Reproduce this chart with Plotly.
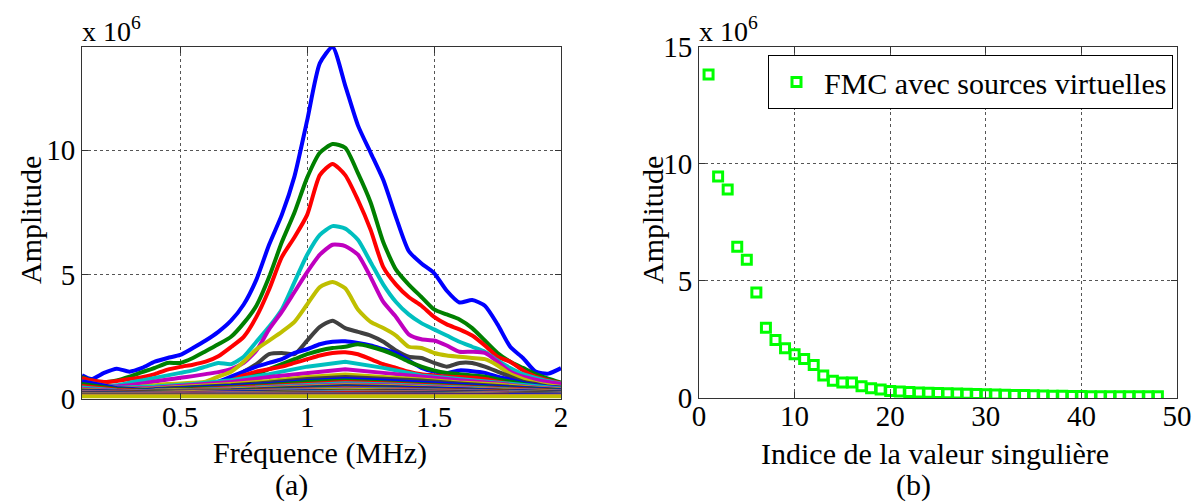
import plotly.graph_objects as go

# ---------------- data: panel (a) ----------------
FREQ = [0.113, 0.15, 0.2, 0.25, 0.3, 0.35, 0.4, 0.45, 0.5, 0.55, 0.6, 0.65, 0.7, 0.75,
        0.8, 0.85, 0.9, 0.95, 1.0, 1.05, 1.1, 1.15, 1.2, 1.25, 1.3, 1.35, 1.4, 1.45,
        1.5, 1.55, 1.6, 1.65, 1.7, 1.75, 1.8, 1.85, 1.9, 1.95, 2.0]

BLUE_1 = [0.95, 0.80, 1.05, 1.22, 1.10, 1.25, 1.50, 1.65, 1.77, 2.05, 2.35, 2.70, 3.15, 3.80,
          4.80, 6.20, 7.40, 8.95, 11.2, 13.5, 14.15, 12.6, 11.0, 9.9, 8.8, 7.3, 5.95, 5.45,
          5.06, 4.35, 3.88, 3.98, 3.75, 3.0, 2.1, 1.65, 1.10, 1.02, 1.24]
GREEN_1 = [0.88, 0.75, 0.68, 0.75, 0.90, 1.08, 1.25, 1.45, 1.45, 1.65, 1.92, 2.2, 2.5, 3.05,
           3.75, 4.9, 6.3, 7.5, 8.9, 9.9, 10.25, 10.1, 9.08, 7.9, 6.3, 5.2, 4.6, 4.1,
           3.6, 3.4, 3.2, 2.85, 2.35, 1.85, 1.5, 1.25, 1.0, 0.82, 0.66]
RED_1 = [0.84, 0.75, 0.68, 0.72, 0.80, 0.88, 1.0, 1.18, 1.29, 1.38, 1.5, 1.72, 2.09, 2.5,
         3.3, 4.4, 5.7, 6.5, 7.4, 9.0, 9.45, 9.0, 8.0, 6.8, 5.3, 4.6, 4.1, 3.75,
         3.3, 3.0, 2.8, 2.55, 2.15, 1.7, 1.5, 1.15, 0.9, 0.75, 0.64]
CYAN_1 = [0.6, 0.55, 0.5, 0.55, 0.65, 0.75, 0.85, 0.95, 1.05, 1.15, 1.3, 1.45, 1.4, 1.7,
          2.3, 2.9, 3.6, 4.7, 5.8, 6.6, 6.95, 6.85, 6.4, 5.5, 4.6, 3.9, 3.4, 3.05,
          2.8, 2.55, 2.3, 2.1, 1.9, 1.55, 1.25, 1.0, 0.85, 0.72, 0.62]
MAGENTA_1 = [0.55, 0.5, 0.48, 0.5, 0.55, 0.62, 0.7, 0.78, 0.85, 0.92, 1.0, 1.08, 1.2, 1.45,
             1.95, 2.8, 3.5, 4.3, 5.1, 5.8, 6.2, 6.15, 5.8, 4.9, 3.9, 3.3, 2.6, 2.4,
             2.35, 2.15, 1.9, 1.9, 1.85, 1.5, 1.1, 0.9, 0.78, 0.68, 0.6]
YELLOW_1 = [0.45, 0.4, 0.38, 0.42, 0.45, 0.5, 0.55, 0.6, 0.62, 0.65, 0.7, 0.9, 1.1, 1.5,
            2.0, 2.35, 2.7, 3.1, 3.8, 4.5, 4.7, 4.45, 3.6, 3.1, 2.85, 2.55, 2.1, 2.05,
            1.85, 1.75, 1.7, 1.65, 1.6, 1.35, 1.0, 0.8, 0.65, 0.55, 0.48]
GRAY_1 = [0.4, 0.38, 0.35, 0.38, 0.4, 0.42, 0.45, 0.48, 0.5, 0.52, 0.58, 0.65, 0.8, 1.1,
          1.4, 1.8, 1.85, 1.8, 2.35, 2.9, 3.15, 2.85, 2.7, 2.55, 2.3, 1.95, 1.7, 1.65,
          1.45, 1.3, 1.45, 1.45, 1.3, 1.1, 0.9, 0.7, 0.6, 0.5, 0.45]
BLUE_2 = [0.35, 0.33, 0.3, 0.32, 0.35, 0.38, 0.42, 0.45, 0.5, 0.55, 0.6, 0.7, 0.9, 1.1,
          1.3, 1.45, 1.6, 1.85, 2.0, 2.2, 2.3, 2.32, 2.25, 2.15, 2.0, 1.85, 1.55, 1.25,
          1.1, 1.05, 1.15, 1.12, 1.05, 0.9, 0.78, 0.65, 0.55, 0.48, 0.45]
GREEN_2 = [0.3, 0.3, 0.28, 0.3, 0.32, 0.35, 0.38, 0.42, 0.45, 0.5, 0.55, 0.62, 0.72, 0.85,
           1.0, 1.2, 1.4, 1.6, 1.8, 1.95, 2.05, 2.1, 2.2, 2.1, 1.95, 1.75, 1.5, 1.3,
           1.15, 1.05, 1.0, 0.95, 0.9, 0.8, 0.7, 0.6, 0.52, 0.45, 0.42]
RED_2 = [0.28, 0.28, 0.27, 0.28, 0.3, 0.32, 0.35, 0.38, 0.42, 0.47, 0.52, 0.6, 0.75, 0.95,
         1.1, 1.2, 1.3, 1.45, 1.6, 1.75, 1.85, 1.88, 1.8, 1.6, 1.4, 1.25, 1.1, 1.0,
         0.95, 0.9, 0.88, 0.85, 0.8, 0.7, 0.6, 0.5, 0.45, 0.4, 0.38]

MAIN_CURVES = [BLUE_1, GREEN_1, RED_1, CYAN_1, MAGENTA_1, YELLOW_1, GRAY_1,
               BLUE_2, GREEN_2, RED_2]

# lower-amplitude spectra (curves 11..48), on a coarser frequency grid
LOW_FREQ = [0.113, 0.25, 0.4, 0.55, 0.7, 0.85, 1.0, 1.15, 1.3, 1.45, 1.6, 1.75, 1.9, 2.0]
LOW_CURVES = [
    [0.55, 0.45, 0.5, 0.6, 0.75, 1.0, 1.3, 1.5, 1.25, 0.95, 0.8, 0.65, 0.5, 0.42],
    [0.5, 0.42, 0.45, 0.55, 0.68, 0.88, 1.05, 1.2, 1.05, 0.88, 0.75, 0.62, 0.46, 0.4],
    [0.48, 0.4, 0.42, 0.5, 0.6, 0.72, 0.88, 0.98, 0.9, 0.78, 0.66, 0.58, 0.44, 0.38],
    [0.45, 0.38, 0.4, 0.46, 0.55, 0.66, 0.8, 0.88, 0.82, 0.74, 0.62, 0.52, 0.42, 0.36],
    [0.42, 0.36, 0.38, 0.44, 0.5, 0.6, 0.72, 0.8, 0.74, 0.65, 0.58, 0.48, 0.4, 0.35],
    [0.4, 0.35, 0.36, 0.41, 0.48, 0.56, 0.68, 0.74, 0.68, 0.6, 0.52, 0.45, 0.38, 0.33],
    [0.62, 0.4, 0.36, 0.38, 0.45, 0.53, 0.62, 0.68, 0.63, 0.57, 0.5, 0.43, 0.36, 0.31],
    [0.66, 0.42, 0.35, 0.36, 0.42, 0.5, 0.58, 0.63, 0.59, 0.53, 0.47, 0.41, 0.34, 0.3],
    [0.5, 0.38, 0.33, 0.34, 0.4, 0.47, 0.54, 0.58, 0.55, 0.5, 0.45, 0.39, 0.33, 0.29],
    [0.7, 0.45, 0.36, 0.33, 0.38, 0.44, 0.51, 0.55, 0.52, 0.47, 0.43, 0.37, 0.31, 0.28],
    [0.45, 0.36, 0.31, 0.31, 0.35, 0.41, 0.48, 0.52, 0.49, 0.45, 0.41, 0.35, 0.3, 0.27],
    [0.72, 0.44, 0.34, 0.3, 0.33, 0.39, 0.45, 0.49, 0.46, 0.43, 0.39, 0.33, 0.29, 0.26],
    [0.6, 0.4, 0.32, 0.29, 0.32, 0.37, 0.43, 0.46, 0.43, 0.4, 0.37, 0.32, 0.28, 0.25],
    [0.52, 0.37, 0.3, 0.28, 0.3, 0.35, 0.4, 0.43, 0.41, 0.38, 0.35, 0.3, 0.27, 0.24],
    [0.46, 0.34, 0.29, 0.27, 0.29, 0.33, 0.38, 0.41, 0.39, 0.36, 0.33, 0.29, 0.26, 0.23],
    [0.4, 0.32, 0.28, 0.26, 0.28, 0.31, 0.36, 0.39, 0.37, 0.34, 0.31, 0.28, 0.25, 0.22],
    [0.37, 0.3, 0.27, 0.25, 0.27, 0.3, 0.34, 0.37, 0.35, 0.32, 0.3, 0.27, 0.24, 0.21],
    [0.34, 0.29, 0.26, 0.24, 0.26, 0.29, 0.32, 0.35, 0.33, 0.31, 0.29, 0.26, 0.23, 0.21],
    [0.32, 0.28, 0.25, 0.24, 0.25, 0.28, 0.31, 0.33, 0.32, 0.3, 0.28, 0.25, 0.22, 0.2],
    [0.3, 0.27, 0.24, 0.23, 0.24, 0.27, 0.3, 0.32, 0.3, 0.29, 0.27, 0.24, 0.22, 0.2],
    [0.29, 0.26, 0.23, 0.22, 0.23, 0.26, 0.28, 0.3, 0.29, 0.28, 0.26, 0.23, 0.21, 0.19],
    [0.27, 0.25, 0.22, 0.21, 0.22, 0.25, 0.27, 0.29, 0.28, 0.27, 0.25, 0.22, 0.2, 0.19],
    [0.26, 0.24, 0.21, 0.21, 0.22, 0.24, 0.26, 0.28, 0.27, 0.26, 0.24, 0.22, 0.2, 0.18],
    [0.25, 0.23, 0.21, 0.2, 0.21, 0.23, 0.25, 0.27, 0.26, 0.25, 0.23, 0.21, 0.19, 0.18],
    [0.24, 0.22, 0.2, 0.2, 0.2, 0.22, 0.24, 0.26, 0.25, 0.24, 0.22, 0.2, 0.19, 0.17],
    [0.23, 0.21, 0.19, 0.19, 0.2, 0.21, 0.23, 0.25, 0.24, 0.23, 0.21, 0.2, 0.18, 0.17],
    [0.22, 0.2, 0.19, 0.18, 0.19, 0.2, 0.22, 0.24, 0.23, 0.22, 0.21, 0.19, 0.18, 0.16],
    [0.21, 0.19, 0.18, 0.18, 0.18, 0.2, 0.21, 0.23, 0.22, 0.21, 0.2, 0.19, 0.17, 0.16],
    [0.2, 0.18, 0.17, 0.17, 0.18, 0.19, 0.2, 0.22, 0.21, 0.2, 0.19, 0.18, 0.17, 0.16],
    [0.19, 0.18, 0.17, 0.16, 0.17, 0.18, 0.19, 0.21, 0.2, 0.19, 0.18, 0.17, 0.16, 0.15],
    [0.18, 0.17, 0.16, 0.16, 0.16, 0.17, 0.18, 0.2, 0.19, 0.18, 0.18, 0.17, 0.16, 0.15],
    [0.17, 0.16, 0.15, 0.15, 0.16, 0.17, 0.18, 0.19, 0.18, 0.18, 0.17, 0.16, 0.15, 0.14],
    [0.16, 0.15, 0.15, 0.14, 0.15, 0.16, 0.17, 0.18, 0.17, 0.17, 0.16, 0.15, 0.15, 0.14],
    [0.15, 0.15, 0.14, 0.14, 0.14, 0.15, 0.16, 0.17, 0.17, 0.16, 0.16, 0.15, 0.14, 0.13],
    [0.14, 0.14, 0.13, 0.13, 0.14, 0.15, 0.15, 0.16, 0.16, 0.15, 0.15, 0.14, 0.14, 0.13],
    [0.13, 0.13, 0.13, 0.12, 0.13, 0.14, 0.14, 0.15, 0.15, 0.15, 0.14, 0.14, 0.13, 0.12],
    [0.12, 0.12, 0.12, 0.12, 0.12, 0.13, 0.13, 0.14, 0.14, 0.14, 0.13, 0.13, 0.12, 0.12],
    [0.11, 0.11, 0.11, 0.11, 0.11, 0.12, 0.12, 0.13, 0.13, 0.12, 0.12, 0.12, 0.11, 0.11],
]

# MATLAB default colour order
COLOR_ORDER = ["#0000ff", "#008000", "#ff0000", "#00bfbf", "#bf00bf", "#bfbf00", "#404040"]

FREQ_TICKS = [0.5, 1, 1.5, 2]
FREQ_TICK_TEXT = ["0.5", "1", "1.5", "2"]
AMP_TICKS_A = [0, 5, 10]

# ---------------- data: panel (b) ----------------
SV_INDEX = list(range(1, 49))
SV_AMPLITUDE = [13.8, 9.45, 8.9, 6.45, 5.9, 4.5, 3.0, 2.48, 2.12, 1.87, 1.66, 1.41, 0.96, 0.74,
                0.66, 0.66, 0.5, 0.42, 0.36, 0.3, 0.28, 0.26, 0.24, 0.22, 0.21, 0.2, 0.19, 0.18,
                0.17, 0.16, 0.15, 0.14, 0.13, 0.13, 0.12, 0.11, 0.1, 0.1, 0.09, 0.09, 0.08, 0.08,
                0.08, 0.07, 0.07, 0.07, 0.07, 0.07]
SV_TICKS_X = [0, 10, 20, 30, 40, 50]
SV_TICKS_Y = [0, 5, 10, 15]
LEGEND_LABEL = "FMC avec sources virtuelles"

FONT = "Liberation Serif"
FS = 30
OFF = 8                    # page body margin of the exported HTML
W, H = 1202 - OFF, 502 - OFF


def px(x):
    return (x - OFF) / W


def py(y):
    return 1 - (y - OFF) / H


fig = go.Figure()

k = 0
for ys in MAIN_CURVES:
    fig.add_trace(go.Scatter(x=FREQ, y=ys, mode="lines", showlegend=False,
                             line=dict(color=COLOR_ORDER[k % 7], width=4,
                                       shape="spline", smoothing=0.6),
                             xaxis="x", yaxis="y", hoverinfo="skip"))
    k += 1
for ys in LOW_CURVES:
    fig.add_trace(go.Scatter(x=LOW_FREQ, y=ys, mode="lines", showlegend=False,
                             line=dict(color=COLOR_ORDER[k % 7], width=4),
                             xaxis="x", yaxis="y", hoverinfo="skip"))
    k += 1

fig.add_trace(go.Scatter(x=SV_INDEX, y=SV_AMPLITUDE, mode="markers", name=LEGEND_LABEL,
                         marker=dict(symbol="square-open", size=9, color="#00ff00",
                                     line=dict(width=3, color="#00ff00")),
                         xaxis="x2", yaxis="y2", showlegend=True))

axis_style = dict(showline=True, linecolor="#333333", linewidth=1, mirror="ticks",
                  ticks="inside", ticklen=6, tickcolor="#333333", automargin=False,
                  showgrid=True, gridcolor="#555555", griddash="dot", gridwidth=1,
                  zeroline=False, tickfont=dict(family=FONT, size=29, color="black"))

fig.update_layout(
    width=W, height=H, autosize=False,
    margin=dict(l=0, r=0, t=0, b=0, pad=0),
    paper_bgcolor="white", plot_bgcolor="white",
    xaxis=dict(domain=[px(82), px(561)], range=[0.113, 2.0], anchor="y",
               tickvals=FREQ_TICKS, ticktext=FREQ_TICK_TEXT, ticklabelstandoff=-8,
               **axis_style),
    yaxis=dict(domain=[py(399), py(46.5)], range=[0, 14.17], anchor="x",
               tickvals=AMP_TICKS_A, **axis_style),
    xaxis2=dict(domain=[px(699), px(1177)], range=[0, 50], anchor="y2",
                tickvals=SV_TICKS_X, ticklabelstandoff=-8, **axis_style),
    yaxis2=dict(domain=[py(398), py(46.5)], range=[0, 15], anchor="x2",
                tickvals=SV_TICKS_Y, **axis_style),
    legend=dict(x=px(1173), xanchor="right", y=py(55), yanchor="top",
                bgcolor="white", bordercolor="black", borderwidth=1, itemwidth=45,
                font=dict(family=FONT, size=FS, color="black")),
    font=dict(family=FONT, size=FS, color="black"),
)


def label(text, x, y, size=FS, angle=0, xanchor="center"):
    return dict(text=text, x=px(x), y=py(y), xref="paper", yref="paper",
                xanchor=xanchor, yanchor="middle", textangle=angle, showarrow=False,
                font=dict(family=FONT, size=size, color="black"))


ann = [
    label("x 10<sup>6</sup>", 80, 30, size=28, xanchor="left"),
    label("x 10<sup>6</sup>", 697, 30, size=28, xanchor="left"),
    label("Amplitude", 30, 220, angle=-90),
    label("Amplitude", 652, 220, angle=-90),
    label("Fréquence (MHz)", 320, 453),
    label("Indice de la valeur singulière", 935, 453),
    label("(a)", 291, 485),
    label("(b)", 913, 485),
]
fig.update_layout(annotations=ann)

fig.write_html("out.html")
